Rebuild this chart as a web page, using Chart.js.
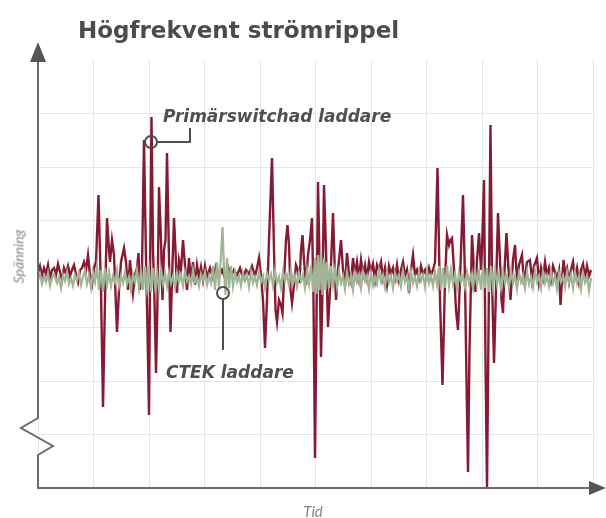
<!DOCTYPE html>
<html>
<head>
<meta charset="utf-8">
<script src="https://cdn.jsdelivr.net/npm/chart.js@4.4.1/dist/chart.umd.min.js"></script>
<style>
  html, body { margin: 0; padding: 0; background: #fff; }
  #wrap { position: relative; width: 606px; height: 518px; overflow: hidden; }
  #ripple { position: absolute; left: 0; top: 0; }
  .txt { position: absolute; white-space: nowrap; line-height: 1; }
  .title { left: 78px; top: 17px; font: bold 23px "DejaVu Sans", sans-serif; color: #4b4b4b; }
  .note { font: italic bold 17px "DejaVu Sans", sans-serif; color: #4f4f4f; }
  .axis-label { font: italic 14px Lato, "DejaVu Sans", sans-serif; color: #858585; }
</style>
</head>
<body>
<div id="wrap">
  <canvas id="ripple" width="606" height="518"></canvas>
  <div class="txt title">Högfrekvent strömrippel</div>
  <div class="txt note" style="left:163px; top:106px;">Primärswitchad laddare</div>
  <div class="txt note" style="left:166px; top:362px;">CTEK laddare</div>
  <div class="txt axis-label" style="left:-10px; top:248px; width:56px; text-align:center; transform:rotate(-90deg);">Spänning</div>
  <div class="txt axis-label" style="left:290px; top:502px; width:46px; text-align:center; font-size:15px;">Tid</div>
</div>
<script>
// Tid (godtyckliga enheter) och spänning (godtyckliga enheter, 0 = vilonivå)
const redT = [0, 2, 4, 6, 8, 10, 12, 14, 16, 18, 20, 22, 24, 26, 28, 30, 32, 34, 36, 38, 40, 42, 44, 46, 48, 50, 52, 54, 56, 58,
  60.5, 63, 65, 67, 69, 71, 72, 74, 76, 79, 81, 83, 86, 88, 90, 92, 95, 97, 99, 100.5, 102,
  104, 106, 108, 109.5, 111, 112, 113.5, 115, 116.5, 118, 119.5, 121, 123, 124.5, 126, 127.5, 129, 131, 132.5, 134, 136, 137.5, 139,
  141, 143, 145, 147, 149, 151, 153, 155, 157, 159, 161, 163, 165, 167, 169, 172, 175, 178, 181, 184, 187, 190, 193, 196, 199,
  202, 205, 208, 211, 214, 217, 219, 221, 223,
  225, 227, 229, 231, 234, 236, 237.5, 239, 241, 243, 244.5, 246, 248, 249.5, 251, 252.5, 254, 256, 258, 260, 261.5, 263, 264.5,
  266, 268, 270, 272, 274, 275.5, 277, 278.5, 280, 281.5, 283, 284.5, 286, 288, 290, 292, 295, 296.5, 298, 300, 303, 305, 307,
  309, 311, 313, 315, 317, 319, 321, 323, 325, 327, 329, 331, 333, 335, 337, 339, 341, 343, 345, 347, 349, 351, 353, 355, 357,
  359, 361, 363, 365, 367, 369, 371, 373, 375, 377, 379, 381, 383, 385, 387, 389, 391, 393, 395, 397,
  399.5, 402, 404.5, 407, 409, 411, 412.5, 414, 416, 418, 420, 422, 425, 427, 428.5, 430, 431.5, 434, 436, 437.5, 439, 441, 443,
  444, 446, 447.5, 449, 450.5, 452.5, 454, 456, 458, 460, 462, 463.5, 465, 466.5, 468.5, 470.5, 472.5, 475, 477, 479, 481, 484,
  486, 489, 492, 494, 496, 499, 501, 503, 505, 507, 509, 511, 513, 515, 517, 519, 521, 522.5, 524, 525.5, 527, 529, 531, 533,
  535, 537, 539, 541, 543, 545, 547, 549, 551, 553];
const redV = [2, 8, -2, 6, 0, 9, -4, 4, 6, -1, 10, 2, -6, 6, 1, 8, -2, 4, 9, 0, -8, 4, 6, 12, 4, 19, -1, -10, 6, 12,
  79, -16, -133, -26, 56, 24, 12, 34, 19, -58, -16, 12, 26, 12, -16, 14, -19, -1, 6, 21, -16,
  4, 134, 14, -56, -141, -6, 157, 24, -26, -99, -26, 87, 34, -26, 24, 34, 121, 14, -58, -6, 56, 24, -19,
  14, 4, 34, 9, -16, 16, -8, 12, -11, 9, -4, 7, -6, 8, -3, 6, -4, 8, -2, 4, -4, 7, -2, 4, -1,
  6, -4, 4, 0, 8, -2, 6, 16, -1,
  -26, -74, -26, 34, 116, 24, -36, -48, -26, -31, -39, -6, 34, 49, 29, -16, -29, -11, 9, 4, -9, 24, 39,
  14, -11, 19, 34, 56, -26, -184, -46, 92, 14, -83, -16, 89, 24, -53, -16, 61, 14, -26, 4, 34, 4, -11,
  21, -1, -8, 16, -1, 12, -4, 14, -1, 9, -4, 12, 2, 10, -6, 9, 4, 12, -4, 6, -10, 8, 0, 6, -4,
  9, -6, 4, 12, -2, 4, -19, 4, 19, -1, 4, -4, 8, 0, 4, -3, 6, -1, 4, 12,
  106, -26, -111, -6, 39, 29, 34, 36, 4, -36, -56, -6, 79, -6, -106, -198, -76, 39, 4, -18, 14, 41, 4,
  24, 94, -86, -214, -56, 149, -6, -89, -16, 61, 14, -26, -39, 4, 41, 4, -26, 14, 29, -8, 9, 19,
  -11, 12, 14, -6, 8, 16, -8, 6, -4, 12, -2, 6, -6, 8, 2, -4, 4, -31, -6, 14, 0, 6, -8, 4,
  12, -3, 6, -8, 4, 10, -4, 8, -2, 4];

const greenT = [0, 2, 4, 6, 8, 10, 12, 14, 16, 19, 21, 23, 25, 27, 29, 31, 33, 35, 37, 39, 41, 43, 45, 47, 49, 51, 53, 55, 57,
  59, 61, 63, 65, 67, 69, 71, 73, 75, 77, 79, 81, 83, 85, 87, 89, 91, 93, 95, 97, 99, 101, 103, 105, 107, 109, 111, 113, 115,
  117, 119, 121, 123, 125, 127, 129, 131, 133, 135, 137, 139, 141, 143, 145, 147, 149, 151, 153, 155, 157, 159, 161, 163, 165,
  167, 169, 171, 173, 175, 177, 179, 181, 183, 184.5, 186, 187.5, 189, 191, 193, 195, 197, 199, 201, 203, 205, 207, 209, 211,
  213, 215, 217, 219, 221, 223, 225, 227, 229, 231, 233, 235, 237, 239, 241, 243, 245, 247, 249, 251, 253, 255, 257, 259, 261,
  263, 265, 267, 269, 271, 273, 275, 277, 278.5, 280, 281.5, 283, 284.5, 286, 287.5, 289, 291, 293, 295, 297, 299, 301, 303,
  305, 307, 309, 311, 313, 315, 317, 319, 321, 323, 325, 327, 329, 331, 333, 335, 337, 339, 341, 343, 345, 347, 349, 351, 353,
  355, 357, 359, 361, 363, 365, 367, 369, 371, 373, 375, 377, 379, 381, 383, 385, 387, 389, 391, 393, 395, 397, 399, 401, 403,
  405, 407, 409, 411, 413, 415, 417, 419, 421, 423, 425, 427, 429, 431, 433, 435, 437, 439, 441, 443, 445, 447, 449, 451, 453,
  455, 457, 459, 461, 463, 465, 467, 469, 471, 473, 475, 477, 479, 481, 483, 485, 487, 489, 491, 493, 495, 497, 499, 501, 503,
  505, 507, 509, 511, 513, 515, 517, 519, 521, 523, 525, 527, 529, 531, 533, 535, 537, 539, 541, 543, 545, 547, 549, 551, 553];
const greenV = [-6, 0, -10, -2, -8, 1, -12, -4, 0, -9, -3, -14, -1, -7, 2, -10, -4, -12, -1, -6, 1, -11, -3, 4, -10, -2, -14, 2, -8,
  8, -16, 4, -18, 6, -11, 2, -12, -2, -8, 4, -12, -2, -9, 2, -10, -3, -16, 0, -8, 4, -14, 2, -16, 8, -14, 4, -18, 6,
  -12, 2, -16, 4, -10, 0, -12, 2, -9, -2, -14, 1, -8, -1, -12, 2, -7, -2, -10, 4, -8, -3, -12, 0, -6,
  2, -11, -2, -9, 8, -16, 12, -14, 19, 47, 6, -21, 16, -14, 8, -12, 2, -8, -2, -12, 1, -7, -1, -13,
  2, -9, -3, -11, 3, -8, -2, -14, 1, -6, 0, -12, 3, -9, -3, -14, 2, -7, -1, -11, 4, -9, -2, -13, 1,
  -7, -1, -14, 4, -10, 9, -18, 16, -20, 19, -16, 22, -21, 16, -16, 12, -14, 8, -11, 4, -13, 2, -9,
  -2, -15, 2, -10, -2, -16, 1, -8, -1, -14, 2, -7, -2, -15, 1, -11, -3, -10, 4, -8, -1, -13, 2, -9, -2,
  -14, 1, -7, -1, -12, 3, -8, -2, -15, 2, -9, -3, -12, 2, -7, -1, -13, 4, -9, -2, -12, 2, -10, 8, -16,
  6, -14, 9, -12, 4, -10, 0, -15, 1, -8, -2, -13, 2, -9, -1, -14, 4, -10, 2, -16, 8, -14, 6, -18, 8,
  -13, 4, -10, 0, -14, 2, -9, -2, -13, 3, -9, -2, -15, 1, -8, -1, -14, 2, -10, -3, -13, 3, -8, -2, -14,
  2, -9, -2, -12, 3, -9, -2, -15, 1, -8, -2, -13, 2, -9, -1, -14, 2, -9, -2, -15, 1, -8, -2, -17, -4];

// axelomfång och rutnätssteg
const xRange = [0, 555];
const yRange = [-214, 214];
const xStep = 55.5;
const yStep = 53.5;

const toPoints = (ts, vs) => ts.map((t, i) => ({ x: t, y: vs[i] }));

// axlar med pilar, axelbrott och markörer till etiketterna
const decorations = {
  id: 'decorations',
  afterDatasetsDraw(chart) {
    const { ctx, chartArea: a, scales: { x, y } } = chart;
    const L = a.left, B = a.bottom;
    ctx.save();
    ctx.strokeStyle = '#6b6b6b';
    ctx.lineWidth = 2;
    ctx.lineJoin = 'miter';
    ctx.beginPath();
    ctx.moveTo(L, 60);
    ctx.lineTo(L, 418);
    ctx.lineTo(L - 17, 428);
    ctx.lineTo(L + 15, 446);
    ctx.lineTo(L, 455);
    ctx.lineTo(L, B);
    ctx.lineTo(592, B);
    ctx.stroke();

    ctx.fillStyle = '#555';
    ctx.beginPath();
    ctx.moveTo(L, 42);
    ctx.lineTo(L - 8, 62);
    ctx.lineTo(L + 8, 62);
    ctx.closePath();
    ctx.fill();
    ctx.beginPath();
    ctx.moveTo(606, B);
    ctx.lineTo(589, B - 7);
    ctx.lineTo(589, B + 7);
    ctx.closePath();
    ctx.fill();

    // Primärswitchad laddare
    ctx.strokeStyle = '#505050';
    ctx.lineWidth = 2;
    let cx = x.getPixelForValue(113), cy = y.getPixelForValue(132);
    ctx.beginPath();
    ctx.arc(cx, cy, 6, 0, Math.PI * 2);
    ctx.stroke();
    ctx.beginPath();
    ctx.moveTo(cx + 6, cy);
    ctx.lineTo(x.getPixelForValue(152), cy);
    ctx.lineTo(x.getPixelForValue(152), y.getPixelForValue(146));
    ctx.stroke();

    // CTEK laddare
    cx = x.getPixelForValue(185); cy = y.getPixelForValue(-19);
    ctx.beginPath();
    ctx.arc(cx, cy, 6, 0, Math.PI * 2);
    ctx.stroke();
    ctx.beginPath();
    ctx.moveTo(cx, cy + 6);
    ctx.lineTo(cx, y.getPixelForValue(-76));
    ctx.stroke();
    ctx.restore();
  }
};

const chart = new Chart(document.getElementById('ripple').getContext('2d'), {
  type: 'line',
  data: {
    datasets: [
      {
        label: 'CTEK laddare',
        data: toPoints(greenT, greenV),
        borderColor: '#a0b596',
        borderWidth: 2.2,
        order: 0
      },
      {
        label: 'Primärswitchad laddare',
        data: toPoints(redT, redV),
        borderColor: '#861a34',
        borderWidth: 2.4,
        order: 1
      }
    ]
  },
  options: {
    responsive: false,
    animation: false,
    parsing: false,
    elements: { point: { radius: 0 }, line: { tension: 0 } },
    layout: { padding: { left: 38, right: 13, top: 60, bottom: 30 } },
    plugins: { legend: { display: false }, tooltip: { enabled: false }, title: { display: false } },
    scales: {
      x: {
        type: 'linear',
        min: xRange[0],
        max: xRange[1],
        border: { display: false },
        grid: { color: '#e6e6e6', drawTicks: false },
        ticks: { display: false, stepSize: xStep }
      },
      y: {
        type: 'linear',
        min: yRange[0],
        max: yRange[1],
        border: { display: false },
        grid: {
          drawTicks: false,
          color: c => (c.tick && c.tick.value >= yRange[1]) ? 'rgba(0,0,0,0)' : '#e6e6e6'
        },
        ticks: { display: false, stepSize: yStep }
      }
    }
  },
  plugins: [decorations]
});
</script>
</body>
</html>
